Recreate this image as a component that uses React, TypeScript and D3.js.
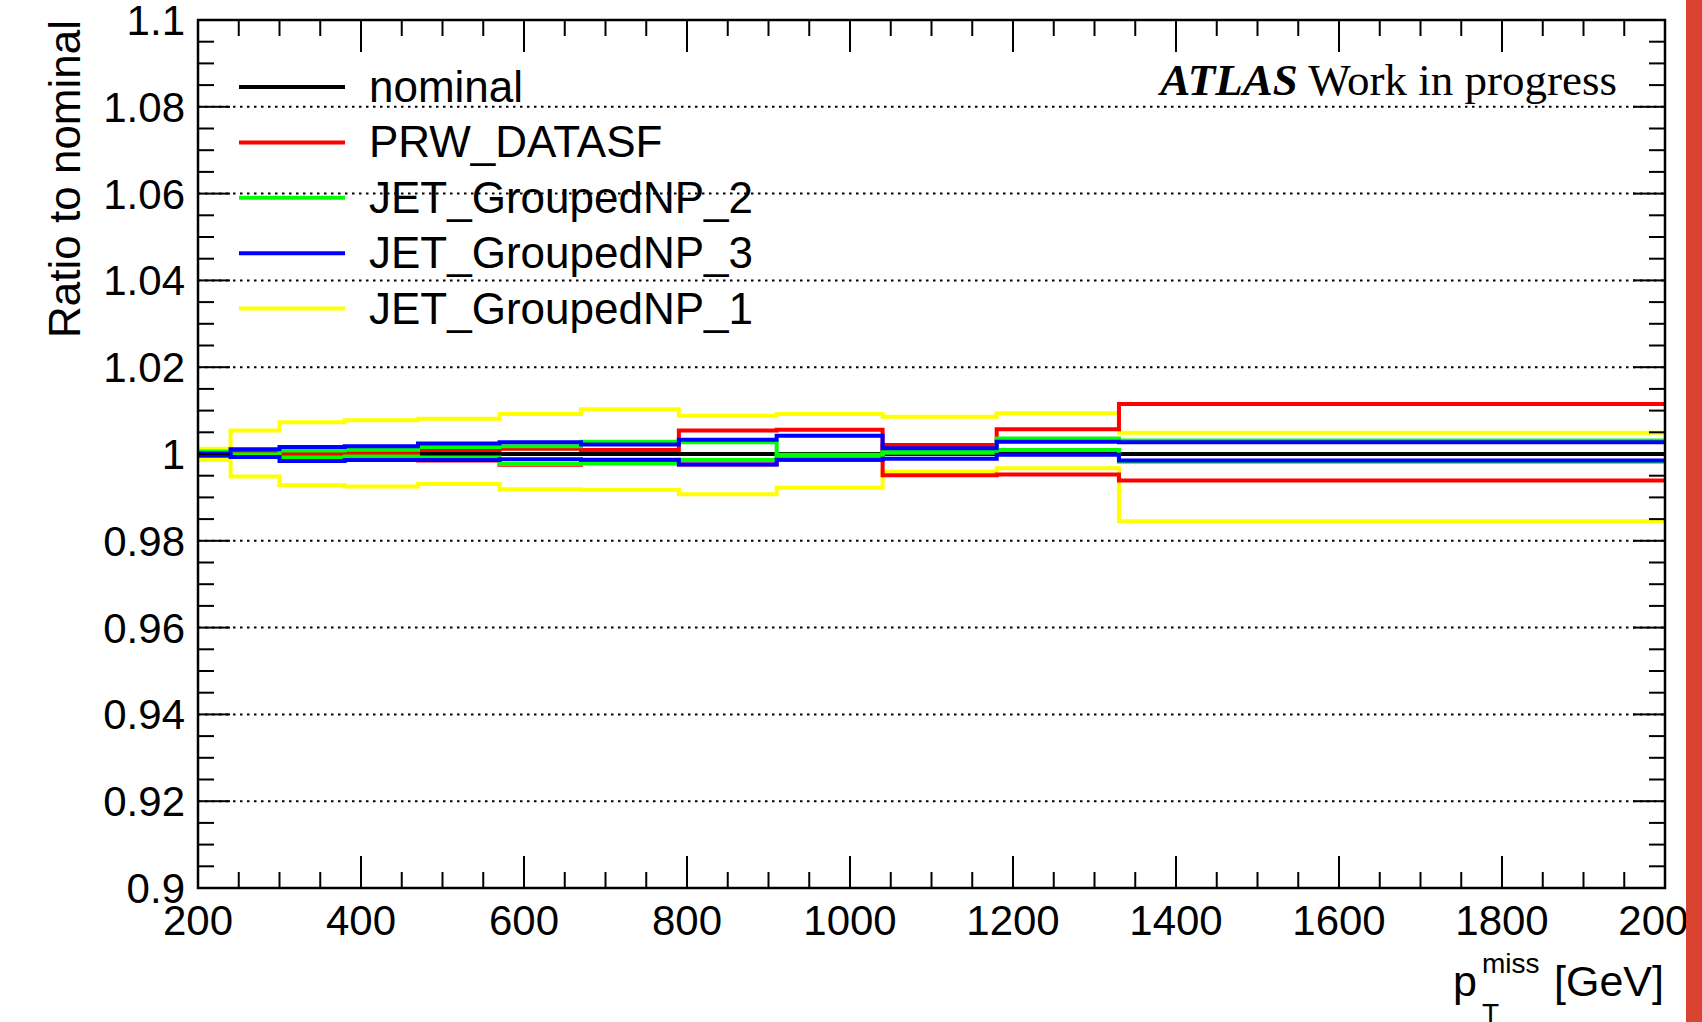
import React from "react";
import * as d3 from "d3";

// Bin edges of the missing-pT histogram [GeV]
const binEdges = [200, 240, 300, 380, 470, 570, 670, 790, 910, 1040, 1180, 1330, 2000];

// Ratio of each systematic variation to the nominal, per bin
const nominal = [1, 1, 1, 1, 1, 1, 1, 1, 1, 1, 1, 1];
const prwA = [1.0003, 1.0006, 1.0004, 1.0003, 1.0009, 1.0012, 1.0009, 1.0054, 1.0056, 0.9951, 0.9953, 0.9939];
const prwB = [1.0, 1.0002, 1.0, 1.0, 0.9985, 0.9975, 0.9986, 0.9976, 0.9987, 1.0021, 1.0057, 1.0115];
const np2A = [1.0006, 0.9999, 1.0008, 1.001, 1.0016, 1.0018, 1.0028, 1.0027, 0.9996, 1.0007, 1.0036, 1.0031];
const np2B = [0.9999, 0.9998, 0.9992, 0.9994, 0.9992, 0.9977, 0.9978, 0.9986, 0.9998, 1.0003, 1.0009, 0.9982];
const np3A = [1.0001, 1.0011, 1.0016, 1.0018, 1.0024, 1.0027, 1.0022, 1.0033, 1.0042, 1.0013, 1.0028, 1.0027];
const np3B = [0.9996, 0.9993, 0.9984, 0.9986, 0.9986, 0.9988, 0.9987, 0.9976, 0.9987, 0.9989, 0.9998, 0.9985];
const np1A = [1.0012, 1.0054, 1.0073, 1.0078, 1.0081, 1.0092, 1.0103, 1.0088, 1.0092, 1.0086, 1.0094, 1.0049];
const np1B = [0.9986, 0.9948, 0.9928, 0.9925, 0.9931, 0.9919, 0.9917, 0.9907, 0.9922, 0.9959, 0.9967, 0.9845];

// Axis ticks
const xMajorTicks = [200, 400, 600, 800, 1000, 1200, 1400, 1600, 1800, 2000];
const xTickLabels = ["200", "400", "600", "800", "1000", "1200", "1400", "1600", "1800", "2000"];
const yMajorTicks = [0.9, 0.92, 0.94, 0.96, 0.98, 1.0, 1.02, 1.04, 1.06, 1.08, 1.1];
const yTickLabels = ["0.9", "0.92", "0.94", "0.96", "0.98", "1", "1.02", "1.04", "1.06", "1.08", "1.1"];

// Legend entries, top to bottom
const legendNames = ["nominal", "PRW_DATASF", "JET_GroupedNP_2", "JET_GroupedNP_3", "JET_GroupedNP_1"];
const legendColors = ["#000000", "#ff0000", "#00ff00", "#0000ff", "#ffff00"];

const W = 1702;
const H = 1022;
const frame = { left: 198, right: 1665, top: 20, bottom: 888 };
const SANS = "'Liberation Sans', Arial, Helvetica, sans-serif";
const SERIF = "'Liberation Serif', 'Times New Roman', serif";

export default function App() {
  const x = d3.scaleLinear().domain([200, 2000]).range([frame.left, frame.right]);
  const y = d3.scaleLinear().domain([0.9, 1.1]).range([frame.bottom, frame.top]);

  const stepLine = d3
    .line<[number, number]>()
    .x((d) => x(d[0]))
    .y((d) => y(d[1]))
    .curve(d3.curveStepAfter);

  const histPath = (vals: number[]) => {
    const pts: [number, number][] = vals.map((v, i) => [binEdges[i], v]);
    pts.push([binEdges[binEdges.length - 1], vals[vals.length - 1]]);
    return stepLine(pts) || "";
  };

  // drawing order: nominal first, variations on top
  const hists: { vals: number[]; color: string }[] = [
    { vals: nominal, color: "#000000" },
    { vals: np1A, color: "#ffff00" },
    { vals: np1B, color: "#ffff00" },
    { vals: prwA, color: "#ff0000" },
    { vals: prwB, color: "#ff0000" },
    { vals: np2A, color: "#00ff00" },
    { vals: np2B, color: "#00ff00" },
    { vals: np3A, color: "#0000ff" },
    { vals: np3B, color: "#0000ff" },
  ];

  const xMinor = d3.range(200, 2000 + 1, 50).filter((v) => v % 200 !== 0);
  const yMinor = d3
    .range(0, 41)
    .map((i) => 0.9 + i * 0.005)
    .filter((v) => Math.abs(Math.round(v / 0.02) * 0.02 - v) > 1e-6);

  const majorLen = 32;
  const minorLen = 16;

  return (
    <svg
      width={W}
      height={H}
      viewBox={`0 0 ${W} ${H}`}
      style={{ position: "absolute", left: 0, top: 0, display: "block", background: "#ffffff" }}
    >
      <rect x={0} y={0} width={W} height={H} fill="#ffffff" />

      {/* horizontal dotted grid */}
      {yMajorTicks.slice(1, -1).map((v) => (
        <line
          key={"g" + v}
          x1={frame.left}
          x2={frame.right}
          y1={y(v)}
          y2={y(v)}
          stroke="#000"
          strokeWidth={2}
          strokeDasharray="2.5 4.5"
        />
      ))}

      {/* histograms */}
      {hists.map((h, i) => (
        <path key={"h" + i} d={histPath(h.vals)} fill="none" stroke={h.color} strokeWidth={4} />
      ))}

      {/* frame */}
      <rect
        x={frame.left}
        y={frame.top}
        width={frame.right - frame.left}
        height={frame.bottom - frame.top}
        fill="none"
        stroke="#000"
        strokeWidth={2.5}
      />

      {/* x ticks, bottom and top */}
      {xMajorTicks.map((v) => (
        <g key={"xt" + v}>
          <line x1={x(v)} x2={x(v)} y1={frame.bottom} y2={frame.bottom - majorLen} stroke="#000" strokeWidth={2} />
          <line x1={x(v)} x2={x(v)} y1={frame.top} y2={frame.top + majorLen} stroke="#000" strokeWidth={2} />
        </g>
      ))}
      {xMinor.map((v) => (
        <g key={"xm" + v}>
          <line x1={x(v)} x2={x(v)} y1={frame.bottom} y2={frame.bottom - minorLen} stroke="#000" strokeWidth={2} />
          <line x1={x(v)} x2={x(v)} y1={frame.top} y2={frame.top + minorLen} stroke="#000" strokeWidth={2} />
        </g>
      ))}

      {/* y ticks, left and right */}
      {yMajorTicks.map((v) => (
        <g key={"yt" + v}>
          <line x1={frame.left} x2={frame.left + majorLen} y1={y(v)} y2={y(v)} stroke="#000" strokeWidth={2} />
          <line x1={frame.right} x2={frame.right - majorLen} y1={y(v)} y2={y(v)} stroke="#000" strokeWidth={2} />
        </g>
      ))}
      {yMinor.map((v) => (
        <g key={"ym" + v}>
          <line x1={frame.left} x2={frame.left + minorLen} y1={y(v)} y2={y(v)} stroke="#000" strokeWidth={2} />
          <line x1={frame.right} x2={frame.right - minorLen} y1={y(v)} y2={y(v)} stroke="#000" strokeWidth={2} />
        </g>
      ))}

      {/* tick labels */}
      {xMajorTicks.map((v, i) => (
        <text key={"xl" + v} x={x(v)} y={935} textAnchor="middle" fontFamily={SANS} fontSize={42} fill="#000">
          {xTickLabels[i]}
        </text>
      ))}
      {yMajorTicks.map((v, i) => (
        <text
          key={"yl" + v}
          x={185}
          y={y(v) + 15}
          textAnchor="end"
          fontFamily={SANS}
          fontSize={42}
          fill="#000"
        >
          {yTickLabels[i]}
        </text>
      ))}

      {/* axis titles */}
      <text
        transform={`translate(80, ${frame.top}) rotate(-90)`}
        textAnchor="end"
        fontFamily={SANS}
        fontSize={44}
        fill="#000"
      >
        Ratio to nominal
      </text>
      <text x={1453} y={996} fontFamily={SANS} fontSize={43} fill="#000">
        p
      </text>
      <text x={1482} y={973} fontFamily={SANS} fontSize={28} fill="#000">
        miss
      </text>
      <text x={1482} y={1023} fontFamily={SANS} fontSize={28} fill="#000">
        T
      </text>
      <text x={1664} y={996} textAnchor="end" fontFamily={SANS} fontSize={43} fill="#000">
        [GeV]
      </text>

      {/* ATLAS label */}
      <text x={1617} y={95} textAnchor="end" fontFamily={SERIF} fontSize={45} fill="#000">
        <tspan fontWeight="bold" fontStyle="italic">ATLAS</tspan>
        <tspan> Work in progress</tspan>
      </text>

      {/* legend */}
      {legendNames.map((name, i) => {
        const ly = 87 + i * 55.4;
        return (
          <g key={"lg" + i}>
            <line x1={239} x2={345} y1={ly} y2={ly} stroke={legendColors[i]} strokeWidth={4} />
            <text x={369} y={ly + 15} fontFamily={SANS} fontSize={44} fill="#000">
              {name}
            </text>
          </g>
        );
      })}

      {/* side strip */}
      <rect x={1686} y={0} width={W - 1686} height={H} fill="#d9432f" />
    </svg>
  );
}
